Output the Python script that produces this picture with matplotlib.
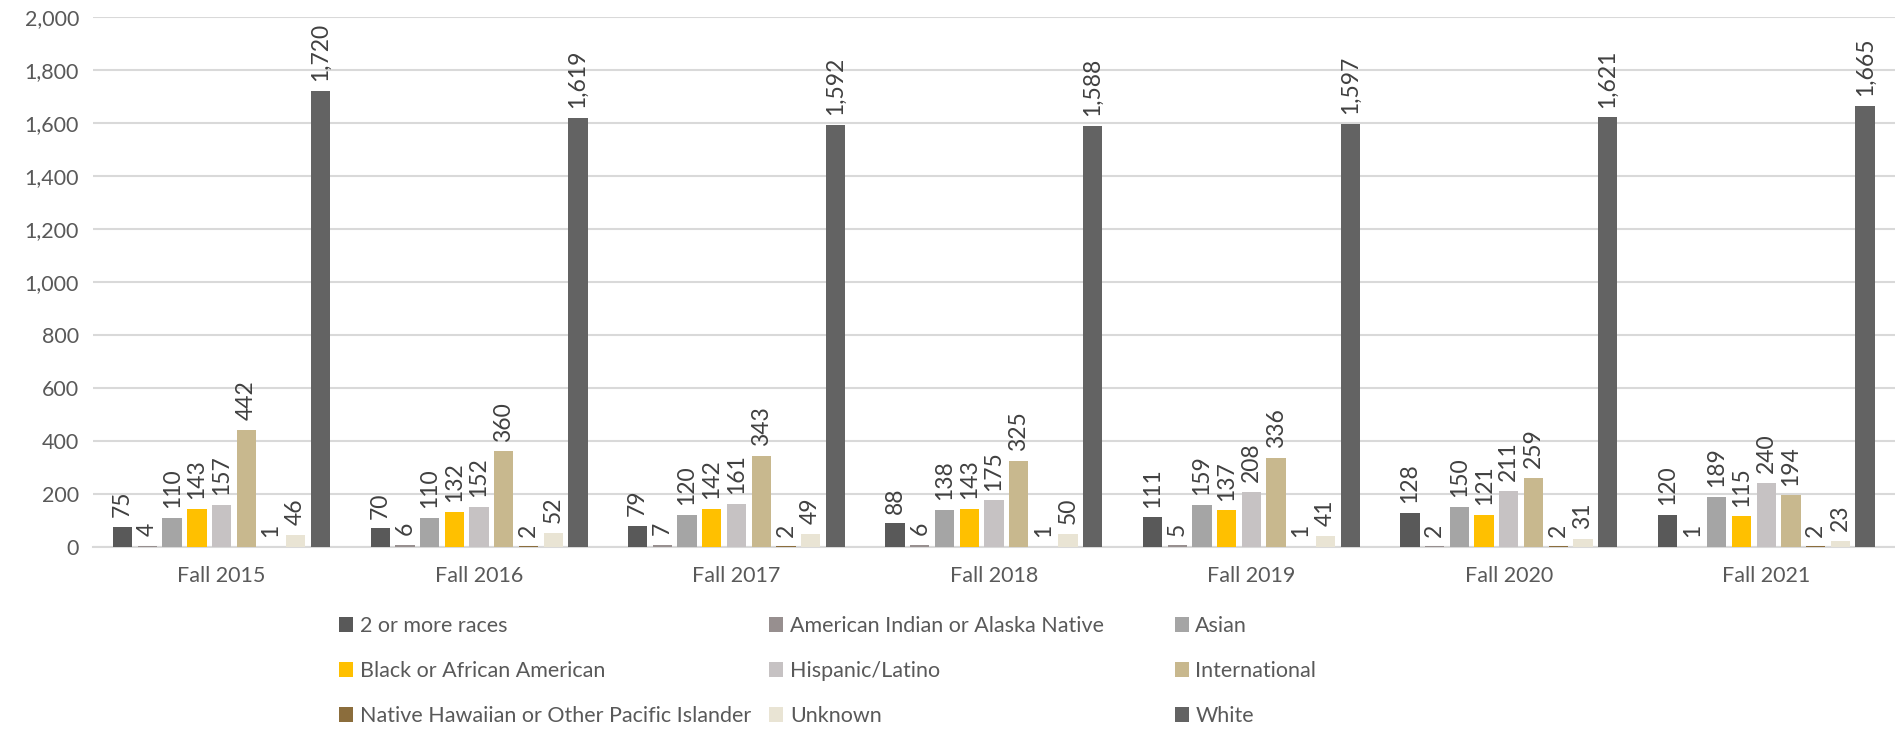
import numpy as np
import matplotlib
matplotlib.use('Agg')
from matplotlib import pyplot as plt

# Du lieu doc tu bieu do
terms = ['Fall 2015', 'Fall 2016', 'Fall 2017', 'Fall 2018', 'Fall 2019', 'Fall 2020', 'Fall 2021']
groups = ['2 or more races', 'American Indian or Alaska Native', 'Asian',
          'Black or African American', 'Hispanic/Latino', 'International',
          'Native Hawaiian or Other Pacific Islander', 'Unknown', 'White']

two_or_more = [75, 70, 79, 88, 111, 128, 120]
am_indian = [4, 6, 7, 6, 5, 2, 1]
asian = [110, 110, 120, 138, 159, 150, 189]
black = [143, 132, 142, 143, 137, 121, 115]
hispanic = [157, 152, 161, 175, 208, 211, 240]
international = [442, 360, 343, 325, 336, 259, 194]
hawaiian = [1, 2, 2, 1, 1, 2, 2]
unknown = [46, 52, 49, 50, 41, 31, 23]
white = [1720, 1619, 1592, 1588, 1597, 1621, 1665]

series = [two_or_more, am_indian, asian, black, hispanic, international, hawaiian, unknown, white]
colors = ['#595959', '#978F8F', '#A5A5A5', '#FFC000', '#C6C2C3',
          '#C8B88E', '#8B6D3C', '#E9E4D4', '#636363']

plt.rcParams['font.family'] = ['Lato', 'DejaVu Sans']
text_color = '#595959'

fig = plt.figure(figsize=(18.95, 7.31), dpi=100)
ax = fig.add_axes([0.049, 0.252, 0.951, 0.725])

x = np.arange(len(terms))
slot = 0.096
bar_w = 0.075
handles = []
for i, (vals, c) in enumerate(zip(series, colors)):
    pos = x + (i - 4) * slot
    b = ax.bar(pos, vals, width=bar_w, color=c, label=groups[i], zorder=3)
    handles.append(b)
    for px, v in zip(pos, vals):
        ax.annotate(f'{v:,}', (px, v), xytext=(0, 7), textcoords='offset points',
                    rotation=90, ha='center', va='bottom', fontsize=16.5, color='#404040')

ax.set_xlim(-0.5, len(terms) - 0.5)
ax.set_ylim(0, 2000)
ax.set_yticks(np.arange(0, 2001, 200))
ax.set_yticklabels([f'{t:,}' for t in range(0, 2001, 200)])
ax.set_xticks(x)
ax.set_xticklabels(terms)
ax.grid(axis='y', color='#D9D9D9', linewidth=1.5, zorder=0)
for s in ['top', 'right', 'left']:
    ax.spines[s].set_visible(False)
ax.spines['bottom'].set_color('#D9D9D9')
ax.spines['bottom'].set_linewidth(1.5)
ax.tick_params(axis='both', length=0, labelsize=15.5, colors=text_color, pad=10)
ax.tick_params(axis='x', pad=14)

# Chu giai: 3 cot, moi cot mot legend rieng de dat dung vi tri
col_x = [0.179, 0.406, 0.620]
for j, cx in enumerate(col_x):
    idx = [j, j + 3, j + 6]
    leg = fig.legend([handles[k] for k in idx], [groups[k] for k in idx],
                     ncol=1, loc='upper left', bbox_to_anchor=(cx, 0.157),
                     frameon=False, fontsize=15.5, handlelength=0.65, handleheight=0.65,
                     handletextpad=0.3, labelspacing=1.16,
                     borderaxespad=0, borderpad=0)
    for t in leg.get_texts():
        t.set_color(text_color)

plt.savefig('out.png', dpi=100)
